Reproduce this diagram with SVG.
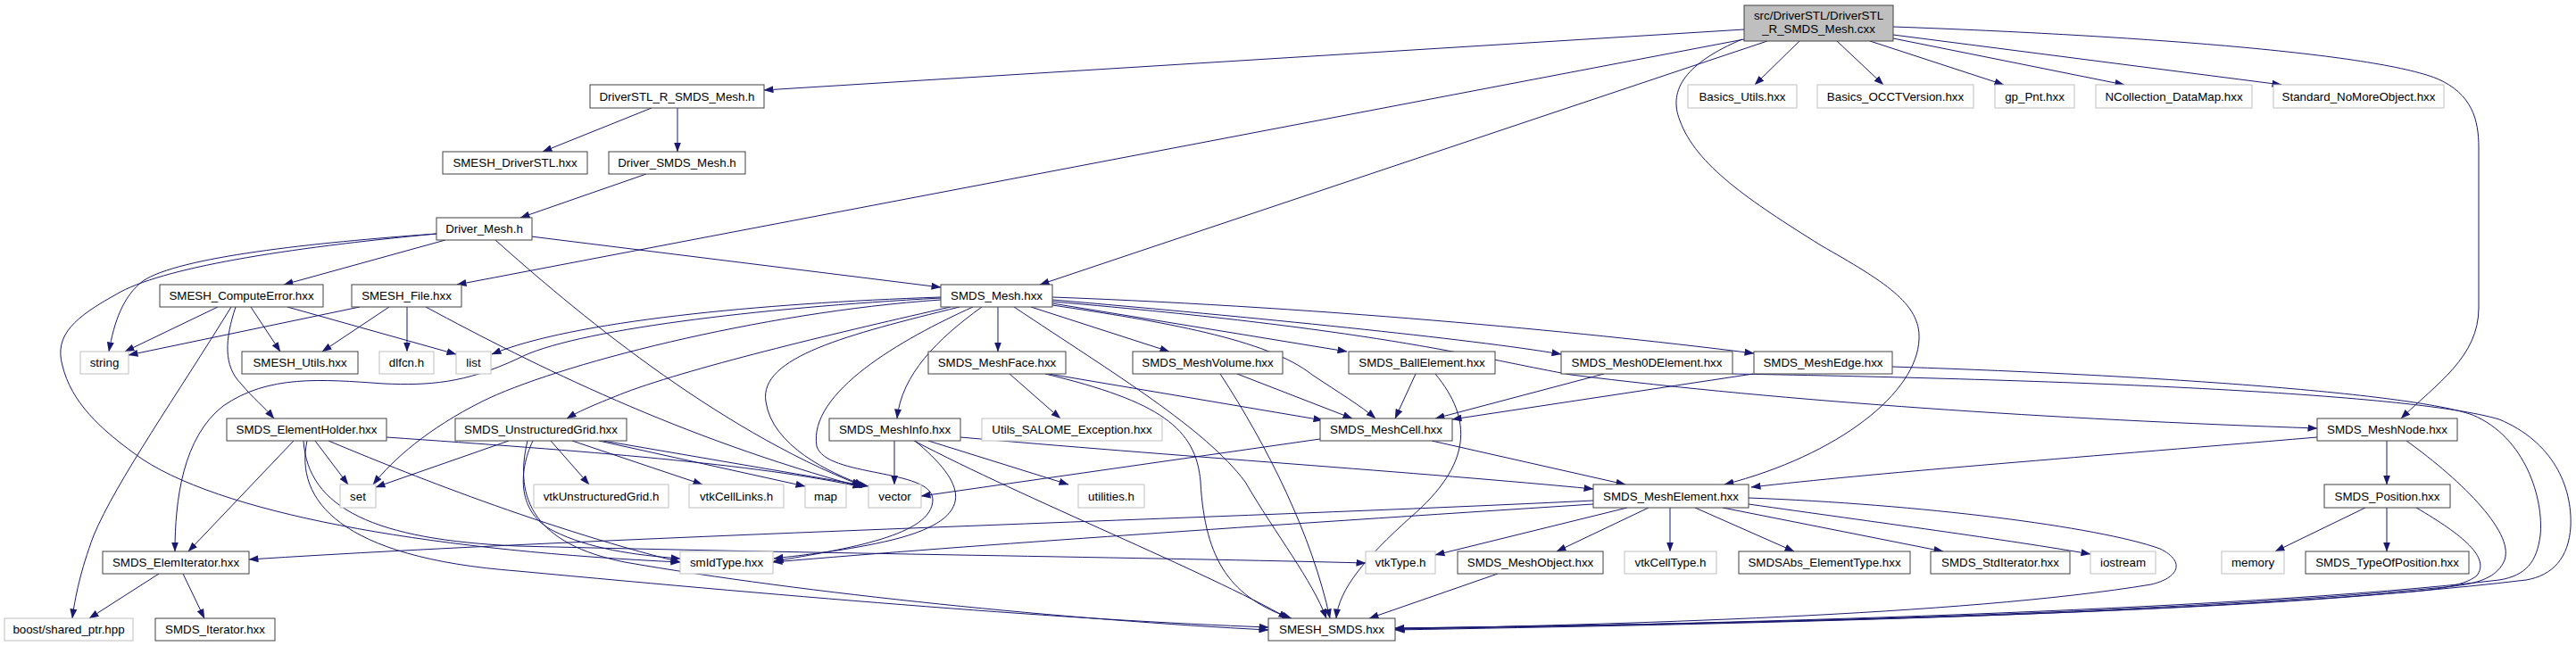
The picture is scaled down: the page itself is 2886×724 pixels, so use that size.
<svg xmlns="http://www.w3.org/2000/svg" width="2886" height="724" viewBox="0 0 2886 724">
<defs>
<marker id="a" markerWidth="11" markerHeight="8" refX="10.5" refY="4" orient="auto" markerUnits="userSpaceOnUse"><path d="M0,0 L11,4 L0,8 z" fill="#191970"/></marker>
<style>
.n rect{fill:#fff;stroke:#404040;stroke-width:1}
.g rect{fill:#fff;stroke:#bfbfbf;stroke-width:1}
.r rect{fill:#bfbfbf;stroke:#404040;stroke-width:1}
text{font-family:"Liberation Sans",Arial,sans-serif;font-size:13.33px;text-anchor:middle;fill:#000}
#edges path{fill:none;stroke:#191970;stroke-width:1;marker-end:url(#a)}
</style>
</defs>
<rect width="2886" height="724" fill="#fff"/>
<g id="edges">
<path d="M1954,33 L856,101"/>
<path d="M1954,44 L512,319"/>
<path d="M1980,46 L1165,319"/>
<path d="M1952,44 C1890,70 1868,100 1882,135 C1900,185 1960,225 2040,275 C2110,315 2152,340 2150,380 C2148,440 2060,510 1932,543"/>
<path d="M2121,30 C2400,40 2660,60 2730,88 C2770,105 2777,135 2777,165 L2777,345 C2777,400 2730,430 2690,469"/>
<path d="M2016,46 L1966,95"/>
<path d="M2058,46 L2110,95"/>
<path d="M2095,46 L2245,95"/>
<path d="M2121,43 L2380,95"/>
<path d="M2121,39 L2556,95"/>
<path d="M730,121 L608,170"/>
<path d="M759,121 L759,170"/>
<path d="M724,195 L583,244"/>
<path d="M595,265 L1054,322"/>
<path d="M499,269 L318,319"/>
<path d="M489,262 C350,272 200,288 160,315 C138,332 128,360 122,394"/>
<path d="M489,262 C320,278 180,300 130,330 C85,355 60,375 70,410 C80,450 110,480 160,515 C260,580 500,618 762,630"/>
<path d="M555,269 C640,345 800,480 965,544"/>
<path d="M244,344 L140,394"/>
<path d="M281,344 L314,394"/>
<path d="M322,344 L511,397"/>
<path d="M264,344 C252,380 250,410 270,430 C285,448 295,455 307,469"/>
<path d="M259,344 C200,440 130,540 105,600 C90,640 84,670 81,693"/>
<path d="M403,344 L144,398"/>
<path d="M436,344 L361,394"/>
<path d="M456,344 L456,394"/>
<path d="M477,344 C600,410 760,490 966,546"/>
<path d="M1054,333 C850,340 640,360 551,397"/>
<path d="M1054,336 C850,350 620,410 540,450 C480,480 440,515 418,543"/>
<path d="M1054,334 C850,345 640,370 580,402 C520,430 480,432 430,430 C360,425 300,420 250,455 C205,490 196,560 196,618"/>
<path d="M1065,344 C950,370 780,410 700,440 C670,452 650,460 635,469"/>
<path d="M1075,344 C950,375 850,400 858,450 C865,500 930,530 968,544"/>
<path d="M1090,344 C1010,380 905,440 915,500 C925,535 1045,525 1045,560 C1045,600 950,615 867,629"/>
<path d="M1100,344 C1050,380 1010,420 1005,469"/>
<path d="M1118,344 L1118,394"/>
<path d="M1155,344 L1310,394"/>
<path d="M1179,340 L1509,394"/>
<path d="M1179,342 C1300,360 1420,380 1470,420 C1500,440 1525,455 1541,469"/>
<path d="M1179,336 C1400,355 1650,380 1749,397"/>
<path d="M1179,333 C1500,345 1800,375 1965,396"/>
<path d="M1179,338 C1550,370 1650,400 1760,420 C2000,450 2300,470 2596,480"/>
<path d="M1136,344 C1250,420 1350,480 1395,540 C1430,600 1470,650 1486,693"/>
<path d="M329,494 L211,618"/>
<path d="M353,494 L390,543"/>
<path d="M433,490 C650,505 850,520 966,546"/>
<path d="M368,494 C430,520 600,590 762,630"/>
<path d="M340,494 C345,570 420,605 580,612 C900,620 1300,625 1530,631"/>
<path d="M344,494 C330,560 380,625 580,640 C900,670 1200,695 1421,703"/>
<path d="M570,494 L421,546"/>
<path d="M617,494 L660,543"/>
<path d="M641,494 L787,543"/>
<path d="M671,494 L902,545"/>
<path d="M676,494 L973,545"/>
<path d="M597,494 C580,530 580,575 620,595 C660,615 710,622 762,626"/>
<path d="M591,494 C575,560 600,610 700,630 C900,665 1200,695 1421,706"/>
<path d="M178,643 L100,693"/>
<path d="M205,643 L229,693"/>
<path d="M1002,494 L1002,543"/>
<path d="M1040,494 L1197,543"/>
<path d="M1025,494 C1080,540 1100,580 1000,605 C950,617 900,622 867,626"/>
<path d="M1024,494 C1150,560 1350,640 1443,693"/>
<path d="M1076,490 C1300,510 1600,530 1785,548"/>
<path d="M1131,419 L1188,469"/>
<path d="M1175,419 L1482,471"/>
<path d="M1171,419 C1300,450 1340,480 1345,540 C1350,630 1380,670 1447,693"/>
<path d="M1386,419 L1515,469"/>
<path d="M1367,419 C1420,500 1470,600 1490,693"/>
<path d="M1586,419 L1563,469"/>
<path d="M1608,419 C1650,470 1650,520 1580,580 C1530,625 1500,660 1497,693"/>
<path d="M1479,492 L1032,556"/>
<path d="M1604,494 L1821,543"/>
<path d="M1678,643 L1534,693"/>
<path d="M1797,419 L1608,469"/>
<path d="M1941,419 C2300,425 2700,440 2800,470 C2860,495 2882,545 2880,590 C2878,625 2860,645 2830,650 C2500,690 1900,700 1563,706"/>
<path d="M1964,419 L1627,470"/>
<path d="M2120,411 C2400,420 2700,440 2770,465 C2830,490 2850,560 2846,600 C2842,630 2830,645 2800,650 C2500,685 1900,700 1563,705"/>
<path d="M1785,561 C1400,580 700,600 279,627"/>
<path d="M1785,565 C1400,590 1100,610 866,630"/>
<path d="M1823,569 L1608,622"/>
<path d="M1847,569 L1744,618"/>
<path d="M1871,569 L1871,618"/>
<path d="M1899,569 L2010,618"/>
<path d="M1930,569 L2177,618"/>
<path d="M1959,565 C2100,585 2250,605 2342,621"/>
<path d="M1959,558 C2150,565 2350,590 2420,615 C2450,630 2440,648 2410,655 C2200,690 1800,700 1563,705"/>
<path d="M2596,490 C2300,515 2100,530 1962,546"/>
<path d="M2674,494 L2674,543"/>
<path d="M2696,494 C2760,540 2820,600 2805,630 C2795,650 2770,655 2740,658 C2400,690 1900,700 1563,704"/>
<path d="M2650,569 L2549,618"/>
<path d="M2674,569 L2674,618"/>
<path d="M2707,569 C2760,600 2790,625 2775,645 C2760,658 2720,662 2680,665 C2400,690 1900,700 1563,704"/>
</g>
<g id="n0" class="r"><rect x="1954" y="6" width="167" height="40"/><text x="2037.5" y="22">src/DriverSTL/DriverSTL</text><text x="2037.5" y="37">_R_SMDS_Mesh.cxx</text></g>
<g id="n1" class="n"><rect x="661" y="95" width="195" height="26"/><text x="758.5" y="113">DriverSTL_R_SMDS_Mesh.h</text></g>
<g id="n2" class="n"><rect x="496" y="170" width="162" height="25"/><text x="577" y="187">SMESH_DriverSTL.hxx</text></g>
<g id="n3" class="n"><rect x="682" y="170" width="153" height="25"/><text x="758.5" y="187">Driver_SMDS_Mesh.h</text></g>
<g id="n4" class="n"><rect x="489" y="244" width="107" height="25"/><text x="542.5" y="261">Driver_Mesh.h</text></g>
<g id="n5" class="n"><rect x="179" y="319" width="183" height="25"/><text x="270.5" y="336">SMESH_ComputeError.hxx</text></g>
<g id="n6" class="n"><rect x="394" y="319" width="123" height="25"/><text x="455.5" y="336">SMESH_File.hxx</text></g>
<g id="n7" class="n"><rect x="1054" y="319" width="125" height="25"/><text x="1116.5" y="336">SMDS_Mesh.hxx</text></g>
<g id="n8" class="g"><rect x="90" y="394" width="54" height="25"/><text x="117" y="411">string</text></g>
<g id="n9" class="n"><rect x="271" y="394" width="130" height="25"/><text x="336" y="411">SMESH_Utils.hxx</text></g>
<g id="n10" class="g"><rect x="425" y="394" width="61" height="25"/><text x="455.5" y="411">dlfcn.h</text></g>
<g id="n11" class="g"><rect x="511" y="394" width="39" height="25"/><text x="530.5" y="411">list</text></g>
<g id="n12" class="n"><rect x="254" y="469" width="179" height="25"/><text x="343.5" y="486">SMDS_ElementHolder.hxx</text></g>
<g id="n13" class="n"><rect x="510" y="469" width="192" height="25"/><text x="606" y="486">SMDS_UnstructuredGrid.hxx</text></g>
<g id="n14" class="g"><rect x="381" y="543" width="40" height="26"/><text x="401" y="561">set</text></g>
<g id="n15" class="n"><rect x="115" y="618" width="164" height="25"/><text x="197" y="635">SMDS_ElemIterator.hxx</text></g>
<g id="n16" class="g"><rect x="5" y="693" width="144" height="25"/><text x="77" y="710">boost/shared_ptr.hpp</text></g>
<g id="n17" class="n"><rect x="174" y="693" width="134" height="25"/><text x="241" y="710">SMDS_Iterator.hxx</text></g>
<g id="n18" class="g"><rect x="598" y="543" width="151" height="26"/><text x="673.5" y="561">vtkUnstructuredGrid.h</text></g>
<g id="n19" class="g"><rect x="772" y="543" width="106" height="26"/><text x="825" y="561">vtkCellLinks.h</text></g>
<g id="n20" class="g"><rect x="902" y="543" width="46" height="26"/><text x="925" y="561">map</text></g>
<g id="n21" class="g"><rect x="973" y="543" width="59" height="26"/><text x="1002.5" y="561">vector</text></g>
<g id="n22" class="g"><rect x="762" y="618" width="104" height="25"/><text x="814" y="635">smIdType.hxx</text></g>
<g id="n23" class="n"><rect x="929" y="469" width="147" height="25"/><text x="1002.5" y="486">SMDS_MeshInfo.hxx</text></g>
<g id="n24" class="n"><rect x="1040" y="394" width="154" height="25"/><text x="1117" y="411">SMDS_MeshFace.hxx</text></g>
<g id="n25" class="g"><rect x="1100" y="469" width="202" height="25"/><text x="1201" y="486">Utils_SALOME_Exception.hxx</text></g>
<g id="n26" class="n"><rect x="1269" y="394" width="168" height="25"/><text x="1353" y="411">SMDS_MeshVolume.hxx</text></g>
<g id="n27" class="n"><rect x="1511" y="394" width="164" height="25"/><text x="1593" y="411">SMDS_BallElement.hxx</text></g>
<g id="n28" class="n"><rect x="1479" y="469" width="148" height="25"/><text x="1553" y="486">SMDS_MeshCell.hxx</text></g>
<g id="n29" class="g"><rect x="1208" y="543" width="74" height="26"/><text x="1245" y="561">utilities.h</text></g>
<g id="n30" class="g"><rect x="1530" y="618" width="78" height="25"/><text x="1569" y="635">vtkType.h</text></g>
<g id="n31" class="n"><rect x="1633" y="618" width="163" height="25"/><text x="1714.5" y="635">SMDS_MeshObject.hxx</text></g>
<g id="n32" class="n"><rect x="1421" y="693" width="142" height="25"/><text x="1492" y="710">SMESH_SMDS.hxx</text></g>
<g id="n33" class="g"><rect x="1891" y="95" width="122" height="26"/><text x="1952" y="113">Basics_Utils.hxx</text></g>
<g id="n34" class="g"><rect x="2036" y="95" width="175" height="26"/><text x="2123.5" y="113">Basics_OCCTVersion.hxx</text></g>
<g id="n35" class="g"><rect x="2235" y="95" width="89" height="26"/><text x="2279.5" y="113">gp_Pnt.hxx</text></g>
<g id="n36" class="g"><rect x="2348" y="95" width="175" height="26"/><text x="2435.5" y="113">NCollection_DataMap.hxx</text></g>
<g id="n37" class="g"><rect x="2547" y="95" width="191" height="26"/><text x="2642.5" y="113">Standard_NoMoreObject.hxx</text></g>
<g id="n38" class="n"><rect x="1749" y="394" width="192" height="25"/><text x="1845" y="411">SMDS_Mesh0DElement.hxx</text></g>
<g id="n39" class="n"><rect x="1965" y="394" width="155" height="25"/><text x="2042.5" y="411">SMDS_MeshEdge.hxx</text></g>
<g id="n40" class="n"><rect x="1785" y="543" width="174" height="26"/><text x="1872" y="561">SMDS_MeshElement.hxx</text></g>
<g id="n41" class="g"><rect x="1820" y="618" width="103" height="25"/><text x="1871.5" y="635">vtkCellType.h</text></g>
<g id="n42" class="n"><rect x="1948" y="618" width="192" height="25"/><text x="2044" y="635">SMDSAbs_ElementType.hxx</text></g>
<g id="n43" class="n"><rect x="2163" y="618" width="156" height="25"/><text x="2241" y="635">SMDS_StdIterator.hxx</text></g>
<g id="n44" class="n"><rect x="2596" y="469" width="157" height="25"/><text x="2674.5" y="486">SMDS_MeshNode.hxx</text></g>
<g id="n45" class="n"><rect x="2604" y="543" width="141" height="26"/><text x="2674.5" y="561">SMDS_Position.hxx</text></g>
<g id="n46" class="g"><rect x="2342" y="618" width="73" height="25"/><text x="2378.5" y="635">iostream</text></g>
<g id="n47" class="g"><rect x="2489" y="618" width="70" height="25"/><text x="2524" y="635">memory</text></g>
<g id="n48" class="n"><rect x="2583" y="618" width="183" height="25"/><text x="2674.5" y="635">SMDS_TypeOfPosition.hxx</text></g>
</svg>
